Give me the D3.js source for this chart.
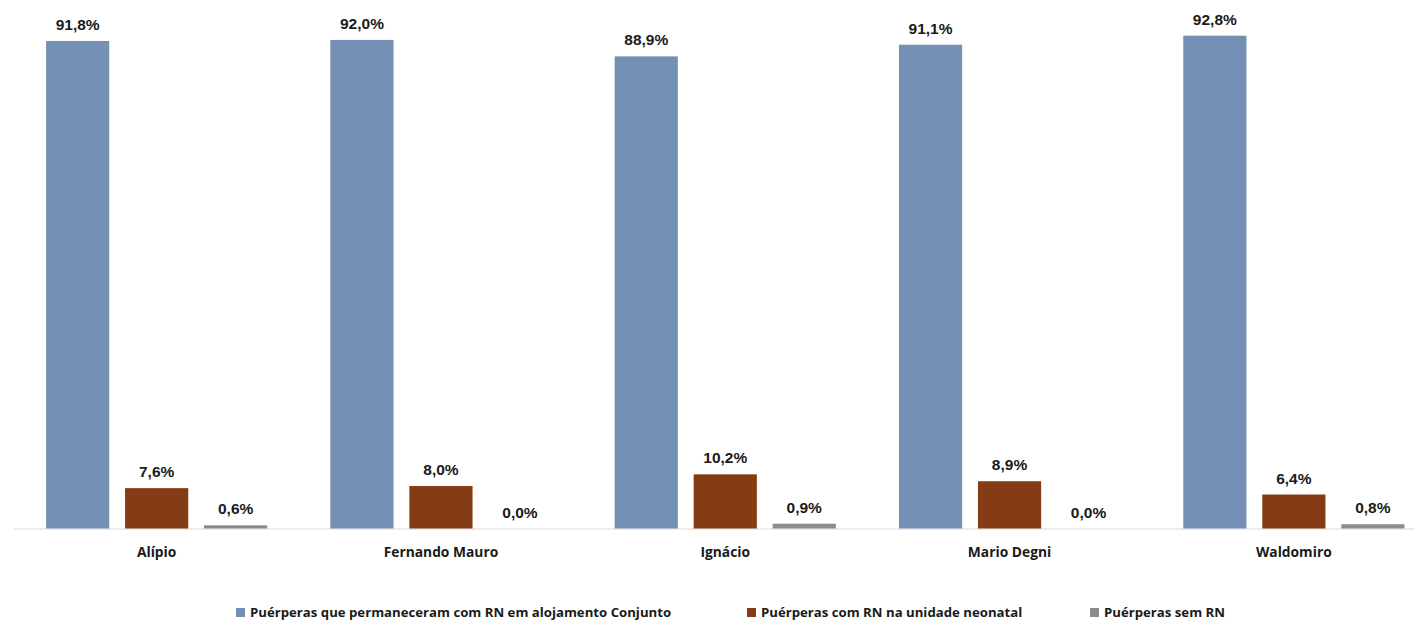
<!DOCTYPE html>
<html><head><meta charset="utf-8">
<script src="https://cdn.jsdelivr.net/npm/d3@7"></script>
<style>html,body{margin:0;padding:0;background:#fff;}svg{display:block;}</style>
</head><body>
<svg id="chart" width="1416" height="621"></svg>
<script>
const categories = ["Alípio", "Fernando Mauro", "Ignácio", "Mario Degni", "Waldomiro"];
const seriesNames = [
  "Puérperas que permaneceram com RN em alojamento Conjunto",
  "Puérperas com RN na unidade neonatal",
  "Puérperas sem RN"
];
const alojamento = [91.8, 92.0, 88.9, 91.1, 92.8];
const neonatal = [7.6, 8.0, 10.2, 8.9, 6.4];
const semRN = [0.6, 0.0, 0.9, 0.0, 0.8];
const colors = ["#7590B5", "#843C14", "#8C8C8C"];

const seriesValues = [alojamento, neonatal, semRN];
const svg = d3.select("#chart");
const baseY = 528.5;
const topY = 41;
const y = d3.scaleLinear().domain([0, 91.8]).range([baseY, topY]);
const x0 = d3.scaleBand().domain(categories).range([14.5, 1436]).paddingInner(0.222).paddingOuter(0.111);
const x1 = d3.scaleBand().domain(d3.range(3)).range([0, x0.bandwidth()]).paddingInner(0.2).paddingOuter(0);

const fmt = v => v.toFixed(1).replace(".", ",") + "%";

// axis line
svg.append("line").attr("x1", 14).attr("x2", 1414).attr("y1", baseY + 0.5).attr("y2", baseY + 0.5)
  .attr("stroke", "#D9D9D9").attr("stroke-width", 1.2);

const groups = svg.selectAll("g.grp").data(categories).enter().append("g")
  .attr("transform", d => `translate(${x0(d)},0)`);

groups.each(function(cat, ci) {
  const g = d3.select(this);
  seriesValues.forEach((vals, si) => {
    const v = vals[ci];
    const h = Math.max(baseY - y(v), 0);
    g.append("rect")
      .attr("x", x1(si)).attr("width", x1.bandwidth())
      .attr("y", baseY - h).attr("height", h)
      .attr("fill", colors[si]);
    g.append("text")
      .attr("x", x1(si) + x1.bandwidth() / 2)
      .attr("y", baseY - h - 11)
      .attr("text-anchor", "middle")
      .attr("font-family", "Liberation Sans, Arial, sans-serif")
      .attr("font-weight", "bold")
      .attr("font-size", 15.5)
      .attr("fill", "#1a1a1a")
      .text(fmt(v));
  });
});

// category labels
svg.selectAll("text.cat").data(categories).enter().append("text")
  .attr("x", d => x0(d) + x0.bandwidth() / 2)
  .attr("y", 557)
  .attr("text-anchor", "middle")
  .attr("font-family", "Open Sans, sans-serif")
  .attr("font-weight", "bold")
  .attr("font-size", 13.8)
  .attr("fill", "#1a1a1a")
  .text(d => d);

// legend
const legendX = [236, 747, 1090];
seriesNames.forEach((name, i) => {
  svg.append("rect").attr("x", legendX[i]).attr("y", 608).attr("width", 9).attr("height", 9).attr("fill", colors[i]);
  svg.append("text").attr("x", legendX[i] + 14).attr("y", 617)
    .attr("font-family", "Open Sans, sans-serif")
    .attr("font-weight", "bold")
    .attr("font-size", 13.2)
    .attr("fill", "#1a1a1a")
    .text(name);
});
</script>
</body></html>
